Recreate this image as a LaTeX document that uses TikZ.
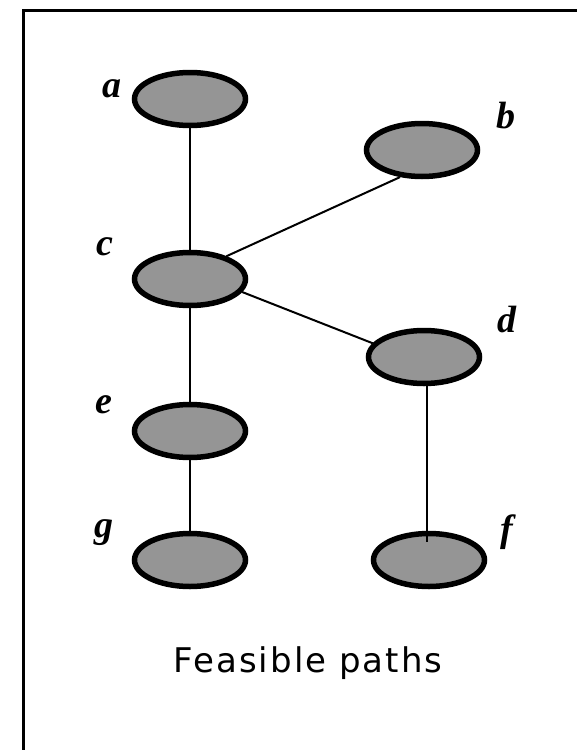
\documentclass[tikz,border=0pt]{standalone}
\usepackage{fontspec}
\usepackage{tikz}
\usetikzlibrary{positioning, shapes.geometric}
\usepackage{xcolor}
\newfontfamily\lblfont{Liberation Serif}
\newfontfamily\capfont[LetterSpace=6]{DejaVu Sans}
\definecolor{nodegray}{RGB}{149,149,149}

\begin{document}
\begin{tikzpicture}[x=1pt, y=-1pt,
    vertex/.style={ellipse, draw=black, fill=nodegray, line width=5.5pt,
                   minimum width=111pt, minimum height=53pt, inner sep=0pt},
    vlabel/.style={anchor=base, inner sep=0pt,
                   font=\lblfont\bfseries\itshape\fontsize{38}{38}\selectfont},
    path/.style={line width=2pt}]
                    \useasboundingbox (0,0) rectangle (577,750);

                    % Frame (only top and left edges show)
                    \draw[line width=3pt] (23,750) -- (23,10) -- (577,10);

                    % Vertices
                    \node[vertex] (a) at (190,99) {};
                    \node[vertex] (b) at (422,150) {};
                    \node[vertex] (c) at (190,279) {};
                    \node[vertex] (d) at (424,357) {};
                    \node[vertex] (e) at (190,431) {};
                    \node[vertex] (g) at (190,560) {};
                    \node[vertex] (f) at (429,560) {};

                    % Labels
                    \node[vlabel] (la) at (112,97) {a};
                    \node[vlabel] (lb) at (506,128) {b};
                    \node[vlabel] (lc) at (105,255) {c};
                    \node[vlabel] (ld) at (507,332) {d};
                    \node[vlabel] (le) at (104,413) {e};
                    \node[vlabel] (lg) at (104,537) {g};
                    \node[vlabel] (lf) at (507,541) {f};

                    % Paths
                    \draw[path] (a) -- (c);
                    \draw[path] (c.32) -- (b.231);
                    \draw[path] (c.-14) -- (d.165);
                    \draw[path] (c) -- (e);
                    \draw[path] (e) -- (g);
                    \coordinate (fend) at (427,542);
                    \draw[path] (d.south -| fend) -- (fend);

                    % Caption
                    \node[font=\capfont\fontsize{34}{34}\selectfont, inner sep=0pt] (cap) at (308,663) {Feasible paths};

                \end{tikzpicture}
\end{document}
